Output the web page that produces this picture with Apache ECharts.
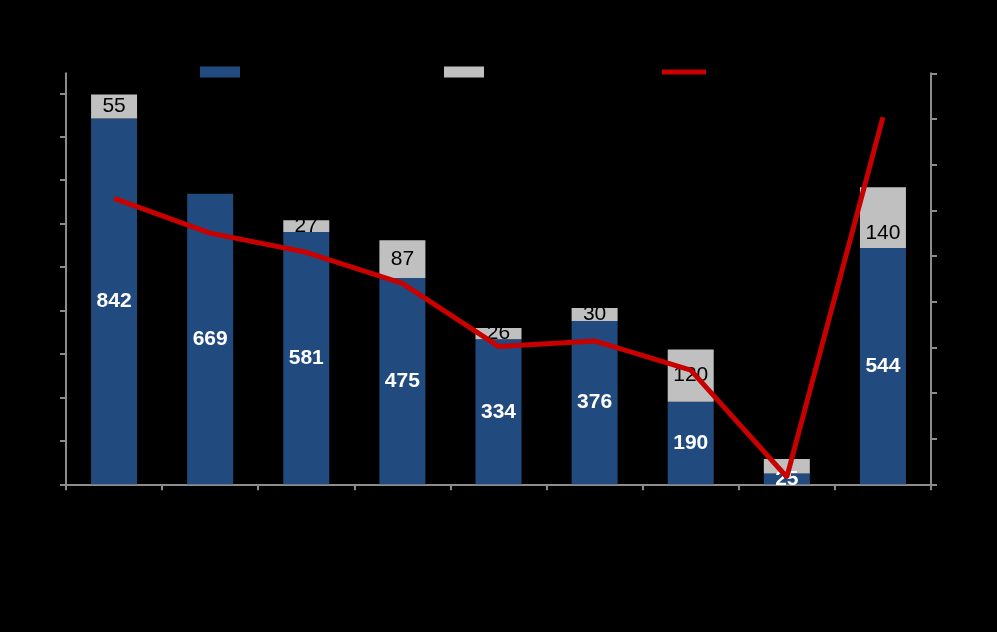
<!DOCTYPE html>
<html>
<head>
<meta charset="utf-8">
<script src="https://cdn.jsdelivr.net/npm/echarts@6/dist/echarts.min.js"></script>
<style>
html,body{margin:0;padding:0;background:#000;}
#main{width:997px;height:632px;}
</style>
</head>
<body>
<div id="main"></div>
<script>
const categories = ['1', '2', '3', '4', '5', '6', '7', '8', '9'];
const baseValues = [842, 669, 581, 475, 334, 376, 190, 25, 544];
const extraValues = [55, 0, 27, 87, 26, 30, 120, 33, 140];
const extraLabelShown = [true, false, true, true, true, true, true, false, true];
const lineValues = [31.3, 27.5, 25.4, 22.0, 15.1, 15.7, 12.5, 0.8, 40.2];
const leftTicks = [0, 100, 200, 300, 400, 500, 600, 700, 800, 900];
const seriesNames = ['Series 1', 'Series 2', 'Series 3'];

const axisGray = '#8c8c8c';
const chart = echarts.init(document.getElementById('main'), null, {renderer: 'canvas'});

const extraData = extraValues.map((v, i) => {
  const item = {value: v, label: {show: extraLabelShown[i]}};
  if (i === 8) item.label.offset = [0, 16];
  return item;
});

const legendText = {color: '#000', fontSize: 12};

chart.setOption({
  backgroundColor: '#000000',
  animation: false,
  textStyle: {fontFamily: 'Liberation Sans, Arial, sans-serif'},
  legend: [
    {data: [{name: seriesNames[0], icon: 'rect'}], left: 195, top: 61, itemWidth: 40, itemHeight: 11, textStyle: legendText, selectedMode: false},
    {data: [{name: seriesNames[1], icon: 'rect'}], left: 439, top: 61, itemWidth: 40, itemHeight: 11, textStyle: legendText, selectedMode: false},
    {data: [{name: seriesNames[2], icon: 'rect'}], left: 657, top: 61, itemWidth: 44, itemHeight: 5, textStyle: legendText, selectedMode: false}
  ],
  grid: {left: 66, right: 66, top: 73.3, bottom: 147.7, containLabel: false},
  xAxis: {
    type: 'category',
    data: categories,
    boundaryGap: true,
    axisLine: {lineStyle: {color: axisGray, width: 2}},
    axisTick: {show: true, alignWithLabel: false, length: 6, lineStyle: {color: axisGray, width: 2}},
    axisLabel: {color: '#000', fontSize: 16}
  },
  yAxis: [
    {
      type: 'value',
      min: 0,
      max: 946,
      position: 'left',
      splitLine: {show: false},
      axisLine: {show: true, lineStyle: {color: axisGray, width: 2}},
      axisTick: {show: true, length: 6, lineStyle: {color: axisGray, width: 2}, customValues: leftTicks},
      axisLabel: {color: '#000', fontSize: 16, customValues: leftTicks}
    },
    {
      type: 'value',
      min: 0,
      max: 45,
      interval: 5,
      position: 'right',
      splitLine: {show: false},
      axisLine: {show: true, lineStyle: {color: axisGray, width: 2}},
      axisTick: {show: true, length: 6, lineStyle: {color: axisGray, width: 2}},
      axisLabel: {color: '#000', fontSize: 16}
    }
  ],
  series: [
    {
      name: seriesNames[0],
      type: 'bar',
      stack: 'total',
      data: baseValues,
      barWidth: 46,
      itemStyle: {color: '#214a7e'},
      label: {show: true, position: 'inside', color: '#ffffff', fontWeight: 'bold', fontSize: 21}
    },
    {
      name: seriesNames[1],
      type: 'bar',
      stack: 'total',
      data: extraData,
      barWidth: 46,
      itemStyle: {color: '#c0c0c0'},
      label: {show: true, position: 'inside', color: '#000000', fontSize: 21}
    },
    {
      name: seriesNames[2],
      type: 'line',
      yAxisIndex: 1,
      data: lineValues,
      symbol: 'none',
      z: 5,
      lineStyle: {color: '#c80000', width: 5},
      itemStyle: {color: '#c80000'}
    }
  ]
});
</script>
</body>
</html>
